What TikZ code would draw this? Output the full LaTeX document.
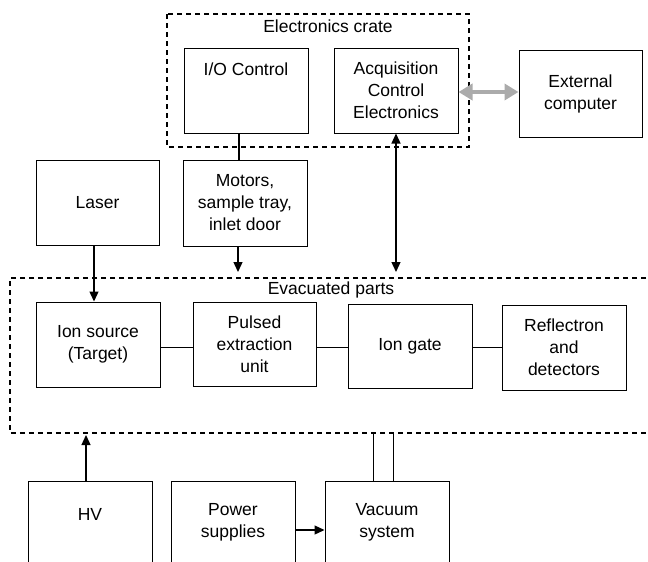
\documentclass[tikz,border=0pt]{standalone}
\usepackage{fontspec}
\setmainfont{Liberation Sans}
\usetikzlibrary{arrows.meta,calc}
\begin{document}
\begin{tikzpicture}[x=1pt,y=-1pt,
  font=\fontsize{17.5}{22}\selectfont,
  box/.style={draw, line width=1pt, minimum width=124pt, minimum height=85pt, inner sep=0pt, align=center},
  dashbox/.style={draw, line width=1.8pt, dash pattern=on 5pt off 4pt},
  conn/.style={line width=1.3pt},
  arr/.style={conn, -{Triangle[length=10pt,width=9pt]}},
  darr/.style={conn, {Triangle[length=10pt,width=9pt]}-{Triangle[length=10pt,width=9pt]}},
  grayarr/.style={line width=4pt, draw=black!33, {Triangle[length=14pt,width=16pt]}-{Triangle[length=14pt,width=16pt]}},
  lbl/.style={inner sep=0pt}]
\clip (0,0) rectangle (648,562);
\fill[white] (0,0) rectangle (648,562);

% containers
\draw[dashbox] (167,14) rectangle (469,147);
\node[lbl] (cratelbl) at (328,26) {Electronics crate};
\draw[dashbox] (700,278) -- (10,278) -- (10,433) -- (700,433);
\node[lbl] (evaclbl) at (331,290) {Evacuated parts};

% electronics crate
\node[box, label={[anchor=north,yshift=-15pt,inner sep=0pt]north:I/O Control}] (io) at (246,91) {};
\node[box] (acq) at (396,90.5) {Acquisition\\Control\\Electronics};
\node[box, minimum width=123pt, minimum height=87pt] (ext) at (580.5,93.5) {External\\computer};

% middle
\node[box, minimum width=123pt] (laser) at (97.5,202.5) {Laser};
\node[box, minimum height=86pt] (motors) at (245,203) {Motors,\\sample tray,\\inlet door};

% evacuated parts
\node[box] (ionsrc) at (98,344.5) {Ion source\\(Target)};
\node[box, minimum width=123pt, minimum height=84pt] (pulsed) at (254.5,344) {Pulsed\\extraction\\unit};
\node[box, minimum height=84pt] (iongate) at (410,346) {Ion gate};
\node[box] (refl) at (564,347.5) {Reflectron\\and\\detectors};

% bottom
\node[box, minimum height=90pt, label={[yshift=12pt,inner sep=0pt]center:HV}] (hv) at (90,526) {};
\node[box, minimum height=90pt, label={[yshift=4pt,inner sep=0pt,align=center]center:Power\\supplies}] (power) at (233,526) {};
\node[box, minimum height=90pt, label={[yshift=4pt,inner sep=0pt,align=center]center:Vacuum\\system}] (vac) at (387,526) {};

% coordinates for free ends
\coordinate (motend) at (238,272);
\coordinate (acqend) at (396,272);
\coordinate (hvend) at (86,435);
\coordinate (vacA) at (373,433);
\coordinate (vacB) at (393,433);

% connectors
\draw[conn] ([xshift=-7pt]io.south) -- ([xshift=-7pt]io.south |- motors.north);
\draw[arr] ([xshift=-7pt]motors.south) -- (motend);
\draw[arr] ([xshift=-3.5pt]laser.south) -- ([xshift=-3.5pt]laser.south |- ionsrc.north);
\draw[darr] (acq.south) -- (acqend);
\draw[grayarr] ([yshift=-1.5pt]acq.east) -- ([yshift=-1.5pt]acq.east -| ext.west);
\draw[conn, line width=1pt] ([yshift=-2.5pt]ionsrc.east) -- ([yshift=-2.5pt]ionsrc.east -| pulsed.west);
\draw[conn, line width=1pt] ([yshift=-1pt]iongate.west -| pulsed.east) -- ([yshift=-1pt]iongate.west);
\draw[conn, line width=1pt] ([yshift=-1pt]iongate.east) -- ([yshift=-1pt]iongate.east -| refl.west);
\draw[arr] ([xshift=-4pt]hv.north) -- (hvend);
\draw[arr] ([yshift=-4pt]power.east) -- ([yshift=-4pt]power.east -| vac.west);
\draw[line width=1pt] (vacA |- vac.north) -- (vacA);
\draw[line width=1pt] (vacB |- vac.north) -- (vacB);
\end{tikzpicture}
\end{document}
